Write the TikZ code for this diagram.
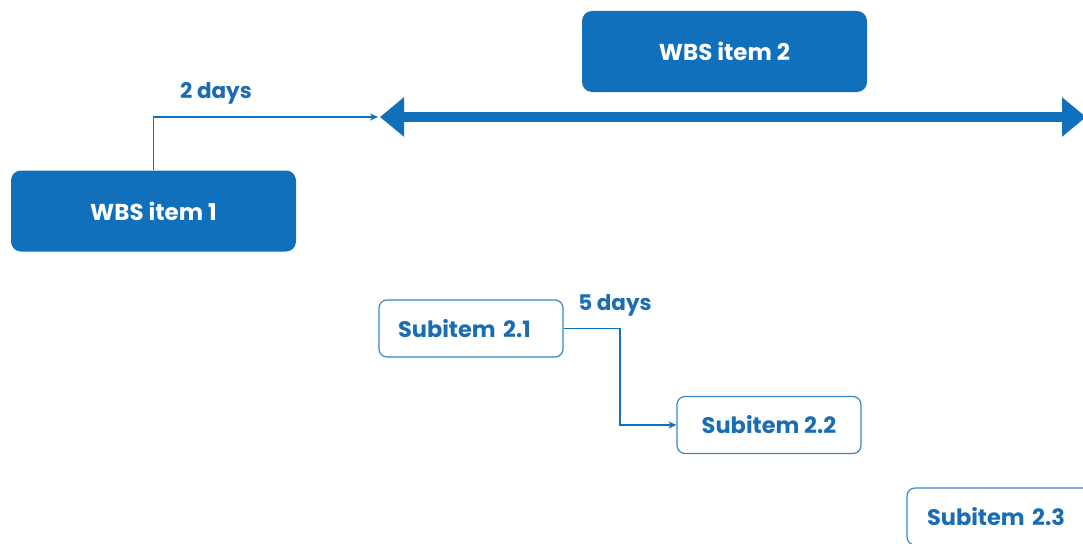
\documentclass[tikz,border=0pt]{standalone}
\usepackage{fontspec}
\setmainfont{Poppins}
\usetikzlibrary{arrows.meta,calc}
\definecolor{wbsblue}{HTML}{1170BB}
\definecolor{subline}{HTML}{3A86C8}
\definecolor{txtblue}{HTML}{1A6DB3}
\tikzset{
  mainbox/.style={draw=none,fill=wbsblue,rounded corners=10pt,minimum width=285pt,minimum height=81pt,text=white,font=\fontsize{23}{26}\selectfont\bfseries,inner sep=0pt},
  subbox/.style={draw=subline,line width=1.2pt,fill=white,rounded corners=8pt,minimum width=184pt,minimum height=57pt,text=txtblue,font=\fontsize{22.5}{26}\selectfont\bfseries,inner sep=0pt},
  lbl/.style={text=txtblue,font=\fontsize{21.5}{25}\selectfont\bfseries,inner sep=0pt},
  conn/.style={draw=wbsblue,line width=1.9pt,-{Stealth[length=8pt,width=7pt]}},
  bigarrow/.style={draw=wbsblue,line width=10pt,{Triangle[length=24pt,width=38pt]}-{Triangle[length=24pt,width=38pt]}}
}
\begin{document}
\begin{tikzpicture}[x=1pt,y=-1pt]
\useasboundingbox (0,0) rectangle (1083,543);
\fill[white] (0,0) rectangle (1083,543);
\begin{scope}
\clip (0,0) rectangle (1083,543);
\node[mainbox] (w1) at (153.5,211) {WBS item 1};
\node[mainbox] (w2) at (724.5,51.5) {WBS item 2};
\node[subbox,text width=146pt,align=left,inner xsep=19pt] (s1) at (471,328.5) {Subitem 2.1};
\node[subbox] (s2) at (769,425) {Subitem 2.2};
\node[subbox,text width=144pt,align=left,inner xsep=20pt] (s3) at (999,516.5) {Subitem 2.3};
\coordinate (al) at (380,117);
\coordinate (ar) at (1086,117);
\draw[bigarrow] (al) -- (ar);
\draw[conn] (w1.north) |- ([xshift=-2pt]al);
\node[lbl] (d2) at (216,93) {2 days};
\draw[conn] (s1.east) -| ($(s1.east)!0.5!(s2.west)$) |- (s2.west);
\node[lbl] (d5) at (615,305) {5 days};
\end{scope}
\end{tikzpicture}
\end{document}
